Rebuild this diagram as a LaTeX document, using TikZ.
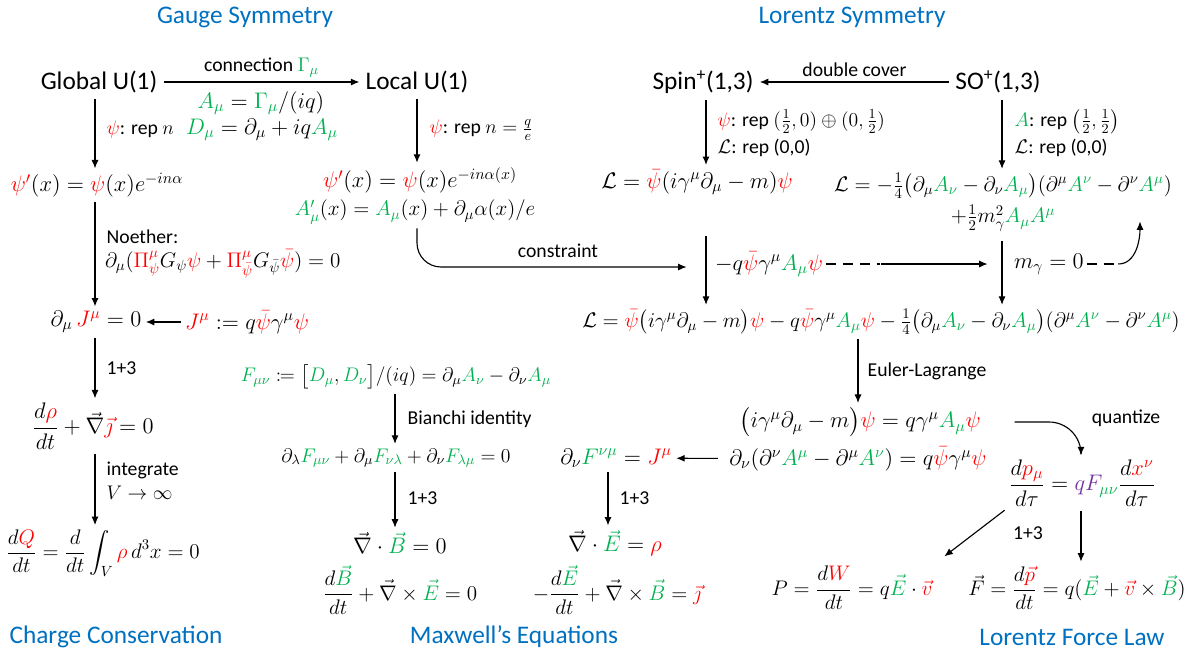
\documentclass[tikz,border=0pt]{standalone}
\usepackage{fix-cm}
\usepackage{amsmath,mathtools}
\usepackage{fontspec}
\setmainfont{Carlito}
\usetikzlibrary{arrows.meta}
\definecolor{qred}{HTML}{FF0000}
\definecolor{qgreen}{HTML}{00B050}
\definecolor{qblue}{HTML}{0070C0}
\definecolor{qpurple}{HTML}{7030A0}
\newcommand{\rd}[1]{\textcolor{qred}{#1}}
\newcommand{\gn}[1]{\textcolor{qgreen}{#1}}
\newcommand{\pu}[1]{\textcolor{qpurple}{#1}}
\begin{document}
\begin{tikzpicture}[x=0.025cm,y=-0.025cm,
  ttl/.style={font=\fontsize{18}{22}\selectfont,text=qblue},
  grp/.style={font=\fontsize{18}{22}\selectfont},
  eq/.style={font=\fontsize{16}{19}\selectfont,inner sep=2pt},
  eqs/.style={eq,font=\fontsize{15}{18}\selectfont},
  eqt/.style={eq,font=\fontsize{14}{17}\selectfont},
  lbl/.style={font=\fontsize{14}{19}\selectfont,inner sep=1pt,anchor=west,align=left},
  arr/.style={-{Latex[length=6pt,width=5pt]},line width=0.8pt,shorten <=1pt,shorten >=1pt}]
  \useasboundingbox (0,0) rectangle (1188,654);
  \coordinate (cA) at (95,0);\coordinate (cB) at (417,0);\coordinate (cC) at (706,0);
  \coordinate (cD) at (1002,0);\coordinate (cE) at (395,0);\coordinate (cF) at (608,0);
  \coordinate (cG) at (858,0);\coordinate (cH) at (1081,0);
  \node[ttl] (tGauge) at (245,17) {Gauge Symmetry};
  \node[ttl] (tLor) at (852,17) {Lorentz Symmetry};
  \node[ttl] (tCharge) at (116,637) {Charge Conservation};
  \node[ttl] (tMax) at (514,637) {Maxwell’s Equations};
  \node[ttl] (tForce) at (1072,637) {Lorentz Force Law};
  \node[grp] (glob) at (99,82) {Global U(1)};
  \node[grp] (loc) at (417,82) {Local U(1)};
  \node[grp] (spin) at (703,82) {Spin\textsuperscript{+}(1,3)};
  \node[grp] (so) at (998,82) {SO\textsuperscript{+}(1,3)};
  \draw[arr] (glob) -- (loc) node[midway,above,font=\fontsize{14}{17}\selectfont] (conn) {connection $\gn{\Gamma_\mu}$};
  \draw[arr] (so) -- (spin) node[midway,above,font=\fontsize{14}{17}\selectfont] (dcov) {double cover};
  \node[eq] (Adef) at (261,103) {$\gn{A_\mu}=\gn{\Gamma_\mu}/(iq)$};
  \node[eq] (Ddef) at (262,130) {$\gn{D_\mu}=\partial_\mu+iq\gn{A_\mu}$};
  \node[lbl] (repG) at (105,130) {$\rd{\psi}$: rep $n$};
  \node[lbl] (repL) at (428,130) {$\rd{\psi}$: rep $n=\frac{q}{e}$};
  \node[lbl] (repS) at (716,133) {$\rd{\psi}$: rep $(\frac12,0)\oplus(0,\frac12)$\\$\mathcal{L}$: rep (0,0)};
  \node[lbl] (repA) at (1013,133) {$\gn{A}$: rep $\left(\frac12,\frac12\right)$\\$\mathcal{L}$: rep (0,0)};
  \node[eq] (psiG) at (97,185) {$\rd{\psi'}(x)=\rd{\psi}(x)e^{-in\alpha}$};
  \node[eq] (psiL) at (420,180) {$\rd{\psi'}(x)=\rd{\psi}(x)e^{-in\alpha(x)}$};
  \node[eqs] (AL) at (415,212) {$\gn{A'_\mu}(x)=\gn{A_\mu}(x)+\partial_\mu\alpha(x)/e$};
  \node[eq] (lagS) at (697,182) {$\mathcal{L}=\rd{\bar\psi}(i\gamma^\mu\partial_\mu-m)\rd{\psi}$};
  \node[eqs] (lagA) at (1003,186) {$\mathcal{L}=-\frac14\big(\partial_\mu\gn{A_\nu}-\partial_\nu\gn{A_\mu}\big)(\partial^\mu\gn{A^\nu}-\partial^\nu\gn{A^\mu})$};
  \node[eqs] (lagA2) at (1003,218) {$+\frac12 m_\gamma^2\gn{A_\mu A^\mu}$};
  \draw[arr] (glob.south -| cA) -- (psiG.north -| cA);
  \draw[arr] (loc.south -| cB) -- (psiL.north -| cB);
  \draw[arr] (spin.south -| cC) -- (lagS.north -| cC);
  \draw[arr] (so.south -| cD) -- (lagA.north -| cD);
  \node[lbl] (noeth) at (105,237) {Noether:};
  \node[eqs,anchor=west] (noethEq) at (102,264) {$\partial_\mu(\rd{\Pi^\mu_\psi}G_\psi\rd{\psi}+\rd{\Pi^\mu_{\bar\psi}}G_{\bar\psi}\rd{\bar\psi})=0$};
  \node[eq] (dJ) at (96,322) {$\partial_\mu\,\rd{J^\mu}=0$};
  \node[eq] (Jdef) at (247,322) {$\rd{J^\mu}:=q\rd{\bar\psi}\gamma^\mu\rd{\psi}$};
  \draw[arr] (psiG.south -| cA) -- (dJ.north -| cA);
  \draw[arr] (Jdef) -- (dJ);
  \node[lbl] (ot1) at (105,368) {1+3};
  \node[eq] (cont) at (93,426) {$\dfrac{d\rd{\rho}}{dt}+\vec\nabla\rd{\vec\jmath}=0$};
  \draw[arr] (dJ.south -| cA) -- (cont.north -| cA);
  \node[lbl,font=\fontsize{14}{17}\selectfont] (integ) at (105,481) {integrate\\$V\to\infty$};
  \node[eqs] (dQ) at (103,553) {$\dfrac{d\rd{Q}}{dt}=\dfrac{d}{dt}\displaystyle\int_V\rd{\rho}\,d^3x=0$};
  \draw[arr] (cont.south -| cA) -- (dQ.north -| cA);
  \coordinate (cst) at (688,267);
  \draw[arr,rounded corners=0.6cm] (AL.south -| cB) |- (cst);
  \node[font=\fontsize{14}{17}\selectfont] (cstl) at (558,251) {constraint};
  \coordinate (vS) at (706,235);
  \coordinate (vD) at (1002,240);
  \node[eqs] (lagF) at (881,322) {$\mathcal{L}=\rd{\bar\psi}\big(i\gamma^\mu\partial_\mu-m\big)\rd{\psi}-q\rd{\bar\psi}\gamma^\mu\gn{A_\mu}\rd{\psi}-\frac14\big(\partial_\mu\gn{A_\nu}-\partial_\nu\gn{A_\mu}\big)(\partial^\mu\gn{A^\nu}-\partial^\nu\gn{A^\mu})$};
  \draw[arr] (vS) -- (lagF.north -| vS);
  \draw[arr] (vD) -- (lagF.north -| vD);
  \node[eq,anchor=west] (intS) at (712,264) {$-q\rd{\bar\psi}\gamma^\mu\gn{A_\mu}\rd{\psi}$};
  \coordinate (vDh) at (989,264);
  \draw[dash pattern=on 7pt off 5pt,line width=0.8pt] (intS.east) -- ++(54,0) coordinate (dS);
  \draw[arr] (dS) -- (vDh);
  \node[eq,anchor=west] (mg) at (1011,264) {$m_\gamma=0$};
  \coordinate (mtip) at (1140,220);
  \draw[dash pattern=on 7pt off 5pt,line width=0.8pt] (mg.east) -- ++(30,0) coordinate (dM);
  \draw[arr] (dM) to[out=0,in=-90] (mtip);
  \node[eqt] (Fdef) at (396,377) {$\gn{F_{\mu\nu}}\coloneqq\big[\gn{D_\mu},\gn{D_\nu}\big]/(iq)=\partial_\mu\gn{A_\nu}-\partial_\nu\gn{A_\mu}$};
  \node[eqt] (bian) at (396,458) {$\partial_\lambda\gn{F_{\mu\nu}}+\partial_\mu\gn{F_{\nu\lambda}}+\partial_\nu\gn{F_{\lambda\mu}}=0$};
  \node[lbl] (bianl) at (406,419) {Bianchi identity};
  \draw[arr] (Fdef.south -| cE) -- (bian.north -| cE);
  \node[eq] (divB) at (400,543) {$\vec\nabla\cdot\gn{\vec B}=0$};
  \node[eqs] (far) at (400,590) {$\dfrac{d\gn{\vec B}}{dt}+\vec\nabla\times\gn{\vec E}=0$};
  \node[lbl] (ot2) at (406,498) {1+3};
  \draw[arr] (bian.south -| cE) -- (divB.north -| cE);
  \node[eq] (dirac) at (860,422) {$\big(i\gamma^\mu\partial_\mu-m\big)\rd{\psi}=q\gamma^\mu\gn{A_\mu}\rd{\psi}$};
  \node[eq] (maxw) at (858,459) {$\partial_\nu(\partial^\nu\gn{A^\mu}-\partial^\mu\gn{A^\nu})=q\rd{\bar\psi}\gamma^\mu\rd{\psi}$};
  \node[lbl] (eul) at (866,371) {Euler-Lagrange};
  \draw[arr] (lagF.south -| cG) -- (dirac.north -| cG);
  \node[eq] (dF) at (616,458) {$\partial_\nu\gn{F^{\nu\mu}}=\rd{J^\mu}$};
  \draw[arr,shorten <=6pt] (maxw) -- (dF);
  \node[eq] (divE) at (615,543) {$\vec\nabla\cdot\gn{\vec E}=\rd{\rho}$};
  \node[eqs] (amp) at (617,590) {$-\dfrac{d\gn{\vec E}}{dt}+\vec\nabla\times\gn{\vec B}=\rd{\vec\jmath}$};
  \node[lbl] (ot3) at (618,498) {1+3};
  \draw[arr] (dF.south -| cF) -- (divE.north -| cF);
  \node[eq] (lorz) at (1082,483) {$\dfrac{d\rd{p_\mu}}{d\tau}=\pu{qF_{\gn{\mu\nu}}}\dfrac{d\rd{x^\nu}}{d\tau}$};
  \node[font=\fontsize{14}{17}\selectfont] (quant) at (1126,418) {quantize};
  \draw[arr,rounded corners=0.8cm,shorten <=22pt] (dirac.east) -| (lorz.north -| cH);
  \node[eqs] (pow) at (852,588) {$P=\dfrac{d\rd{W}}{dt}=q\gn{\vec E}\cdot\rd{\vec v}$};
  \node[eqs] (frc) at (1077,588) {$\vec F=\dfrac{d\rd{\vec p}}{dt}=q(\gn{\vec E}+\rd{\vec v}\times\gn{\vec B})$};
  \node[font=\fontsize{14}{17}\selectfont] (ot4) at (1028,533) {1+3};
  \draw[arr,shorten >=8pt] (lorz.south west) -- (pow.north east);
  \draw[arr] (lorz.south -| cH) -- (frc.north -| cH);
\end{tikzpicture}
\end{document}
